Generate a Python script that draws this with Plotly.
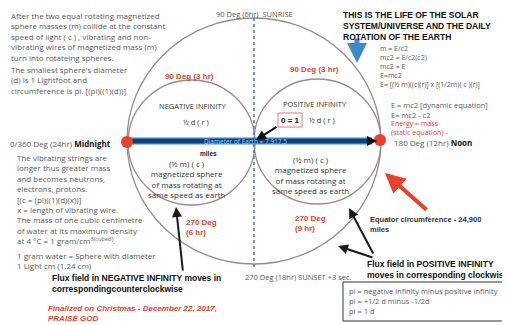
import plotly.graph_objects as go

# ---------------- data (text content) ----------------
intro_lines = ["After the two equal rotating magnetized",
               "sphere masses (m) collide at the constant",
               "speed of light ( c ) , vibrating and non-",
               "vibrating wires of magnetized mass (m)",
               "turn into rotateing spheres."]
smallest_lines = ["The smallest sphere's diameter",
                  "(d) is 1 Lightfoot and",
                  "circumference is pi. [(pi)((1)(d))]"]
strings_lines = ["The vibrating strings are",
                 "longer thus greater mass",
                 "and becomes neutrons,",
                 "electrons, protons.",
                 "[(c = (pi)((1)(d)(x))]",
                 "x = length of vibrating wire.",
                 "The mass of one cubic centimetre",
                 "of water at its maximum density",
                 "at 4 °C = 1 gram/cm<sup>3(cubed)</sup>."]
gram_lines = ["1 gram water = Sphere with diameter", "1 Light cm (1.24 cm)"]
title_lines = ["THIS IS THE LIFE OF THE SOLAR", "SYSTEM/UNIVERSE AND THE DAILY", "ROTATION OF THE EARTH"]
eq_lines = ["m = E/c2", "mc2 = E/c2(c2)", "mc2 = E", "E=mc2",
            "E= [(½ m)((c)(r)] x [(1/2m)( c )(r)]"]
dyn_lines = ["E = mc2 [dynamic equation]", "E= mc2 - c2"]
static_lines = ["Energy = mass", "(static equation) -"]
sphere_lines = ["(½ m) ( c )", "magnetized sphere", "of mass rotating at", "same speed as earth"]
box_lines = ["pi = negative infinity minus positive infinity",
             "pi = +1/2 d minus -1/2d", "pi = 1 d"]
flux_neg = ["Flux field in NEGATIVE INFINITY moves in", "correspondingcounterclockwise"]
flux_pos = ["Flux field in POSITIVE INFINITY", "moves in corresponding clockwise"]
equator_lines = ["Equator circumference - 24,900", "miles"]
final_lines = ["Finalized on Christmas - December 22, 2017,", "PRAISE GOD"]
deg_labels = {"sunrise": "90 Deg (6hr)  SUNRISE", "sunset": "270 Deg (18hr) SUNSET +3 sec.",
              "noon_deg": "180 Deg (12hr) ", "noon": "Noon",
              "mid_deg": "0/360 Deg (24hr) ", "mid": "Midnight",
              "q90": "90 Deg (3 hr)", "q270a": "270 Deg<br>(6 hr)", "q270b": "270 Deg<br>(9 hr)"}
inf_labels = ["NEGATIVE INFINITY", "POSITIVE INFINITY"]
half_d = "½ d ( r )"
diameter_text = "Diameter of Earth = 7,917.5"
miles_text = "miles"
zero_one = "0 = 1"

GRAY = "#5a5a5a"
RED = "#e8412c"
FONT = "Open Sans, Liberation Sans, Arial, sans-serif"
BFONT = "Liberation Sans, Arial, sans-serif"

# page body has an 8px default margin: the figure covers window pixels 8..510 x 8..325
fig = go.Figure()
fig.add_trace(go.Scatter(x=[8, 510], y=[8, 325], mode="markers", marker=dict(opacity=0), hoverinfo="skip"))

ann = []
def txt(x, y, lines, size=8, color=GRAY, bold=False, italic=False, xa="left", ya="top", align="left", family=None):
    s = "<br>".join(lines) if isinstance(lines, list) else lines
    if bold:
        s = "<b>" + s.replace("<br>", "</b><br><b>") + "</b>"
    if italic:
        s = "<i>" + s.replace("<br>", "</i><br><i>") + "</i>"
    fam = family or (BFONT if bold else FONT)
    ann.append(dict(x=x, y=y, xref="x", yref="y", text=s, showarrow=False, xanchor=xa, yanchor=ya,
                    align=align, font=dict(size=size, color=color, family=fam)))

def arrow(x0, y0, x1, y1, color, width, head=2, size=1.0):
    ann.append(dict(x=x1, y=y1, ax=x0, ay=y0, xref="x", yref="y", axref="x", ayref="y", text="",
                    showarrow=True, arrowhead=head, arrowsize=size, arrowwidth=width, arrowcolor=color))

shapes = []
# circles
circ = dict(color="#9b8b89", width=1.3)
shapes.append(dict(type="circle", x0=127, x1=381, y0=18, y1=264, line=circ))
shapes.append(dict(type="circle", x0=128, x1=255, y0=80, y1=205, line=circ))
shapes.append(dict(type="circle", x0=254, x1=381, y0=79, y1=204, line=circ))
# vertical dotted line
shapes.append(dict(type="line", x0=254, x1=254, y0=18, y1=268, line=dict(color="#3c7cc0", width=1.5, dash="dot")))
# horizontal diameter
shapes.append(dict(type="line", x0=130, x1=372, y0=141, y1=141, line=dict(color="#3d8fd6", width=7)))
shapes.append(dict(type="line", x0=132, x1=370, y0=141, y1=141, line=dict(color="#173f70", width=4.5)))
# red dots
shapes.append(dict(type="circle", x0=121, x1=133, y0=136, y1=148, fillcolor=RED, line=dict(width=0)))
shapes.append(dict(type="circle", x0=374, x1=386, y0=134, y1=146, fillcolor=RED, line=dict(width=0)))
# 0=1 box
shapes.append(dict(type="rect", x0=278, x1=302, y0=113, y1=127, line=dict(color="#e07a70", width=1), fillcolor="white"))
# bottom box
shapes.append(dict(type="rect", x0=343, x1=505, y0=282, y1=321, line=dict(color="#333333", width=1)))

# arrows
arrow(366, 141, 377, 141, "#111111", 2, head=2)
arrow(278, 126, 256, 140, "#111111", 2, head=2)
arrow(357, 37, 357, 63, "#3b8ad0", 5, head=2, size=0.8)
arrow(428, 211, 385, 173, RED, 4, head=2, size=1.0)
arrow(183, 272, 176, 207, "#1a1a1a", 2, head=2)
arrow(374, 255, 349, 208, "#1a1a1a", 2, head=2)
arrow(374, 258, 338, 246, "#1a1a1a", 2, head=2)

# text blocks
txt(9, 8, intro_lines, size=8)
txt(9, 62, smallest_lines, size=8)
txt(8, 143, deg_labels["mid_deg"] + "<b style='color:#111'>" + deg_labels["mid"] + "</b>", ya="middle")
txt(15, 150, strings_lines)
txt(15, 248, gram_lines)
txt(50, 271, flux_neg, color="#111111", bold=True, size=8.5)
txt(46, 302, final_lines, color=RED, bold=True, italic=True, size=8)
txt(254, 14, deg_labels["sunrise"], size=7.5, xa="center", ya="middle")
txt(243, 277, deg_labels["sunset"], size=7.5, ya="middle")
txt(341, 8, title_lines, size=8.5, color="#111111", bold=True)
txt(378, 42, eq_lines, size=7)
txt(389, 98, dyn_lines, size=7.5)
txt(389, 117, static_lines, size=7, color=RED)
txt(392, 142, deg_labels["noon_deg"] + "<b style='color:#111'>" + deg_labels["noon"] + "</b>", ya="middle")
txt(368, 213, equator_lines, color="#333333", bold=True, size=7.5)
txt(365, 257, flux_pos, color="#111111", bold=True, size=8.5)
txt(347, 284, box_lines, size=7.5)
# inner circle labels
txt(189, 76, deg_labels["q90"], color=RED, bold=True, xa="center", ya="middle")
txt(314, 69, deg_labels["q90"], color=RED, bold=True, xa="center", ya="middle")
txt(184, 216, deg_labels["q270a"], color=RED, bold=True)
txt(293, 212, deg_labels["q270b"], color=RED, bold=True)
txt(192, 106, inf_labels[0], size=7.5, color="#333333", xa="center", ya="middle")
txt(315, 104, inf_labels[1], size=7.5, color="#333333", xa="center", ya="middle")
txt(196, 122, half_d, size=7.5, color="#333333", xa="center", ya="middle")
txt(322, 120, half_d, size=7.5, color="#333333", xa="center", ya="middle")
txt(186, 156, sphere_lines, color="#333333", xa="center", align="center")
txt(310, 152, sphere_lines, color="#333333", xa="center", align="center")
txt(245, 141, diameter_text, size=6.5, color="#9fd0f5", xa="center", ya="middle")
txt(208, 153, miles_text, size=6.5, color="#222222", bold=True, xa="center", ya="middle")
txt(290, 120, zero_one, size=8, color="#111111", bold=True, xa="center", ya="middle")

fig.update_layout(width=502, height=317, margin=dict(l=0, r=0, t=0, b=0),
                  plot_bgcolor="white", paper_bgcolor="white", showlegend=False,
                  xaxis=dict(range=[8, 510], visible=False, fixedrange=True),
                  yaxis=dict(range=[325, 8], visible=False, fixedrange=True),
                  shapes=shapes, annotations=ann)
fig.write_html("out.html")
